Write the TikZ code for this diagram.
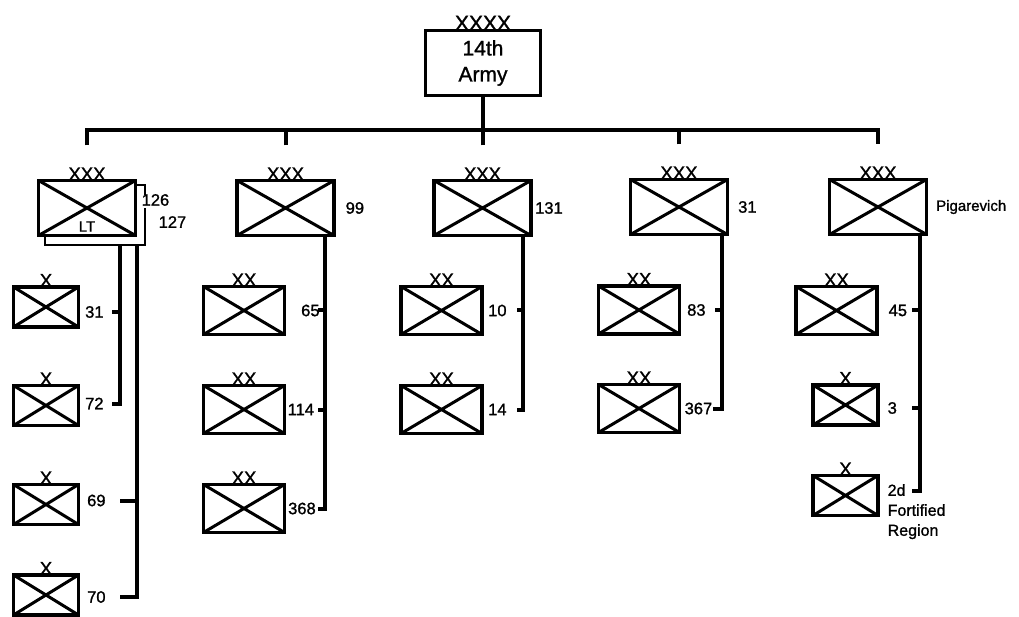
\documentclass[tikz,border=0pt]{standalone}
\usepackage{fontspec}
\setmainfont{Liberation Sans}[FakeBold=1.2]
\usetikzlibrary{calc, positioning}

\tikzset{
  unit/.style={draw, line width=3.5pt, inner sep=0pt, outer sep=0pt,
    path picture={\draw[line width=3pt] (path picture bounding box.north west) -- (path picture bounding box.south east)
      (path picture bounding box.south west) -- (path picture bounding box.north east);}},
  army/.style={draw, line width=3pt, inner sep=0pt, outer sep=0pt, minimum width=115pt, minimum height=65pt,
    align=center, font=\fontsize{21}{26}\selectfont},
  corps/.style={unit, minimum width=97pt, minimum height=55pt},
  division/.style={unit, minimum width=81pt, minimum height=48pt},
  brigade/.style={unit, minimum width=65pt, minimum height=40pt},
  echelon/.style={inner sep=0pt, font=\fontsize{18.5}{18}\selectfont},
  lbl/.style={inner sep=0pt, font=\fontsize{16.5}{20}\selectfont},
  conn/.style={line width=4pt},
  bracket/.style={line width=2pt},
}

\begin{document}
\begin{tikzpicture}[x=1pt, y=-1pt]
\useasboundingbox (0,0) rectangle (1019,617);

% Army
\node[army, label={[echelon, font=\fontsize{21}{21}\selectfont]above:XXXX}] (army) at (483,63) {14th\\Army};

% Corps row
\node[corps, label={[echelon]above:XXX}] (corps1) at (87,208) {};
\node[corps, label={[echelon]above:XXX}] (corps2) at (285.5,208) {};
\node[corps, label={[echelon]above:XXX}] (corps3) at (482.5,208) {};
\node[corps, label={[echelon]above:XXX}] (corps4) at (679,207) {};
\node[corps, label={[echelon]above:XXX}] (corps5) at (878,207) {};

% Bus from army to corps
\coordinate (bus) at ($(army.south)+(0,34.5)$);
\foreach \i in {1,...,5}
  \coordinate (drop\i) at ($(corps\i.north)+(0,-35)$);
\draw[conn] (army.south) -- (bus);
\draw[conn] (drop1) |- (bus) -| (drop5);
\foreach \i in {2,3,4}
  \draw[conn] (drop\i) -- (drop\i |- bus);

% Corps 1 (126, 127)
\node[lbl, font=\fontsize{15}{15}\selectfont] (ltlabel) at ($(corps1.south)+(0,-9)$) {LT};
\node[lbl, anchor=west] (c126) at ($(corps1.east)+(6,-8)$) {126};
\node[lbl, anchor=west] (c127) at ($(corps1.east)+(23,14)$) {127};
\coordinate (lt) at ($(corps1.south)+(0,9.5)$);
\coordinate (brk) at ($(corps1.south east)+(9.5,0)$);
\draw[bracket] ($(corps1.north east)+(0,5)$) -| ($(brk)+(0,-40)$);
\draw[bracket] ($(brk)+(0,-27)$) |- (lt) -| ($(corps1.south west)+(6.5,0)$);
\node[brigade, label={[echelon]above:X}] (brig31) at (46,307) {};
\node[brigade, label={[echelon]above:X}] (brig72) at (46,405.5) {};
\node[brigade, label={[echelon]above:X}] (brig69) at (46,504.5) {};
\node[brigade, label={[echelon]above:X}] (brig70) at (46,595) {};
\node[lbl, right=6.5pt of brig31, yshift=-5pt] (l31) {31};
\node[lbl, right=6.5pt of brig72, yshift=2pt] (l72) {72};
\node[lbl, right=8.5pt of brig69, yshift=4pt] (l69) {69};
\node[lbl, right=8.5pt of brig70, yshift=-2pt] (l70) {70};
\coordinate (v1a) at (120,0);
\coordinate (v1b) at (137,0);
\draw[conn] (v1a |- lt) -- (v1a |- l72) -- ++(-8,0);
\draw[conn] (v1a |- l31) -- ++(-8,0);
\draw[conn] (v1b |- lt) -- (v1b |- l70) -- ++(-17,0);
\draw[conn] (v1b |- l69) -- ++(-17,0);

% Corps 2 (99)
\node[lbl, right=11.5pt of corps2] (c99) {99};
\node[division, label={[echelon]above:XX}] (div65) at (244,310.5) {};
\node[division, label={[echelon]above:XX}] (div114) at (244,409.5) {};
\node[division, label={[echelon]above:XX}] (div368) at (244,508.5) {};
\node[lbl, right=16.5pt of div65] (l65) {65};
\node[lbl, right=3pt of div114] (l114) {114};
\node[lbl, right=3.5pt of div368] (l368) {368};
\coordinate (v2) at (325,0);
\draw[conn] (v2 |- corps2.south) -- (v2 |- div368) -- ++(-7,0);
\draw[conn] (v2 |- div65) -- ++(-7,0);
\draw[conn] (v2 |- div114) -- ++(-7,0);

% Corps 3 (131)
\node[lbl, right=4pt of corps3] (c131) {131};
\node[division, label={[echelon]above:XX}] (div10) at (441.5,310.5) {};
\node[division, label={[echelon]above:XX}] (div14) at (441.5,409.5) {};
\node[lbl, right=6pt of div10] (l10) {10};
\node[lbl, right=6pt of div14] (l14) {14};
\coordinate (v3) at (523,0);
\draw[conn] (v3 |- corps3.south) -- (v3 |- div14) -- ++(-6,0);
\draw[conn] (v3 |- div10) -- ++(-6,0);

% Corps 4 (31)
\node[lbl, right=10.5pt of corps4] (c31) {31};
\node[division, label={[echelon]above:XX}] (div83) at (639,310) {};
\node[division, label={[echelon]above:XX}] (div367) at (639,408.5) {};
\node[lbl, right=7.5pt of div83] (l83) {83};
\node[lbl, right=5pt of div367] (l367) {367};
\coordinate (v4) at (722,0);
\draw[conn] (v4 |- corps4.south) -- (v4 |- div367) -- ++(-9,0);
\draw[conn] (v4 |- div83) -- ++(-7,0);

% Corps 5 (Pigarevich)
\node[lbl, font=\fontsize{15}{15}\selectfont, right=9.5pt of corps5] (pig) {Pigarevich};
\node[division, label={[echelon]above:XX}] (div45) at (836.5,310.5) {};
\node[brigade, label={[echelon]above:X}] (brig3) at (845.5,405) {};
\node[brigade, label={[echelon]above:X}] (brig2d) at (845.5,495.5) {};
\node[lbl, right=11.5pt of div45] (l45) {45};
\node[lbl, right=9.5pt of brig3, yshift=-3pt] (l3) {3};
\node[lbl, align=left, anchor=north west, font=\fontsize{16}{20}\selectfont] (l2d) at ($(brig2d.east)+(9.5,-11.5)$) {2d\\Fortified\\Region};
\coordinate (t2d) at ($(l2d.north west)+(0,6.5)$);
\coordinate (v5) at (920,0);
\draw[conn] (v5 |- corps5.south) -- (v5 |- t2d) -- ++(-8,0);
\draw[conn] (v5 |- div45) -- ++(-8,0);
\draw[conn] (v5 |- l3) -- ++(-8,0);

\end{tikzpicture}
\end{document}
